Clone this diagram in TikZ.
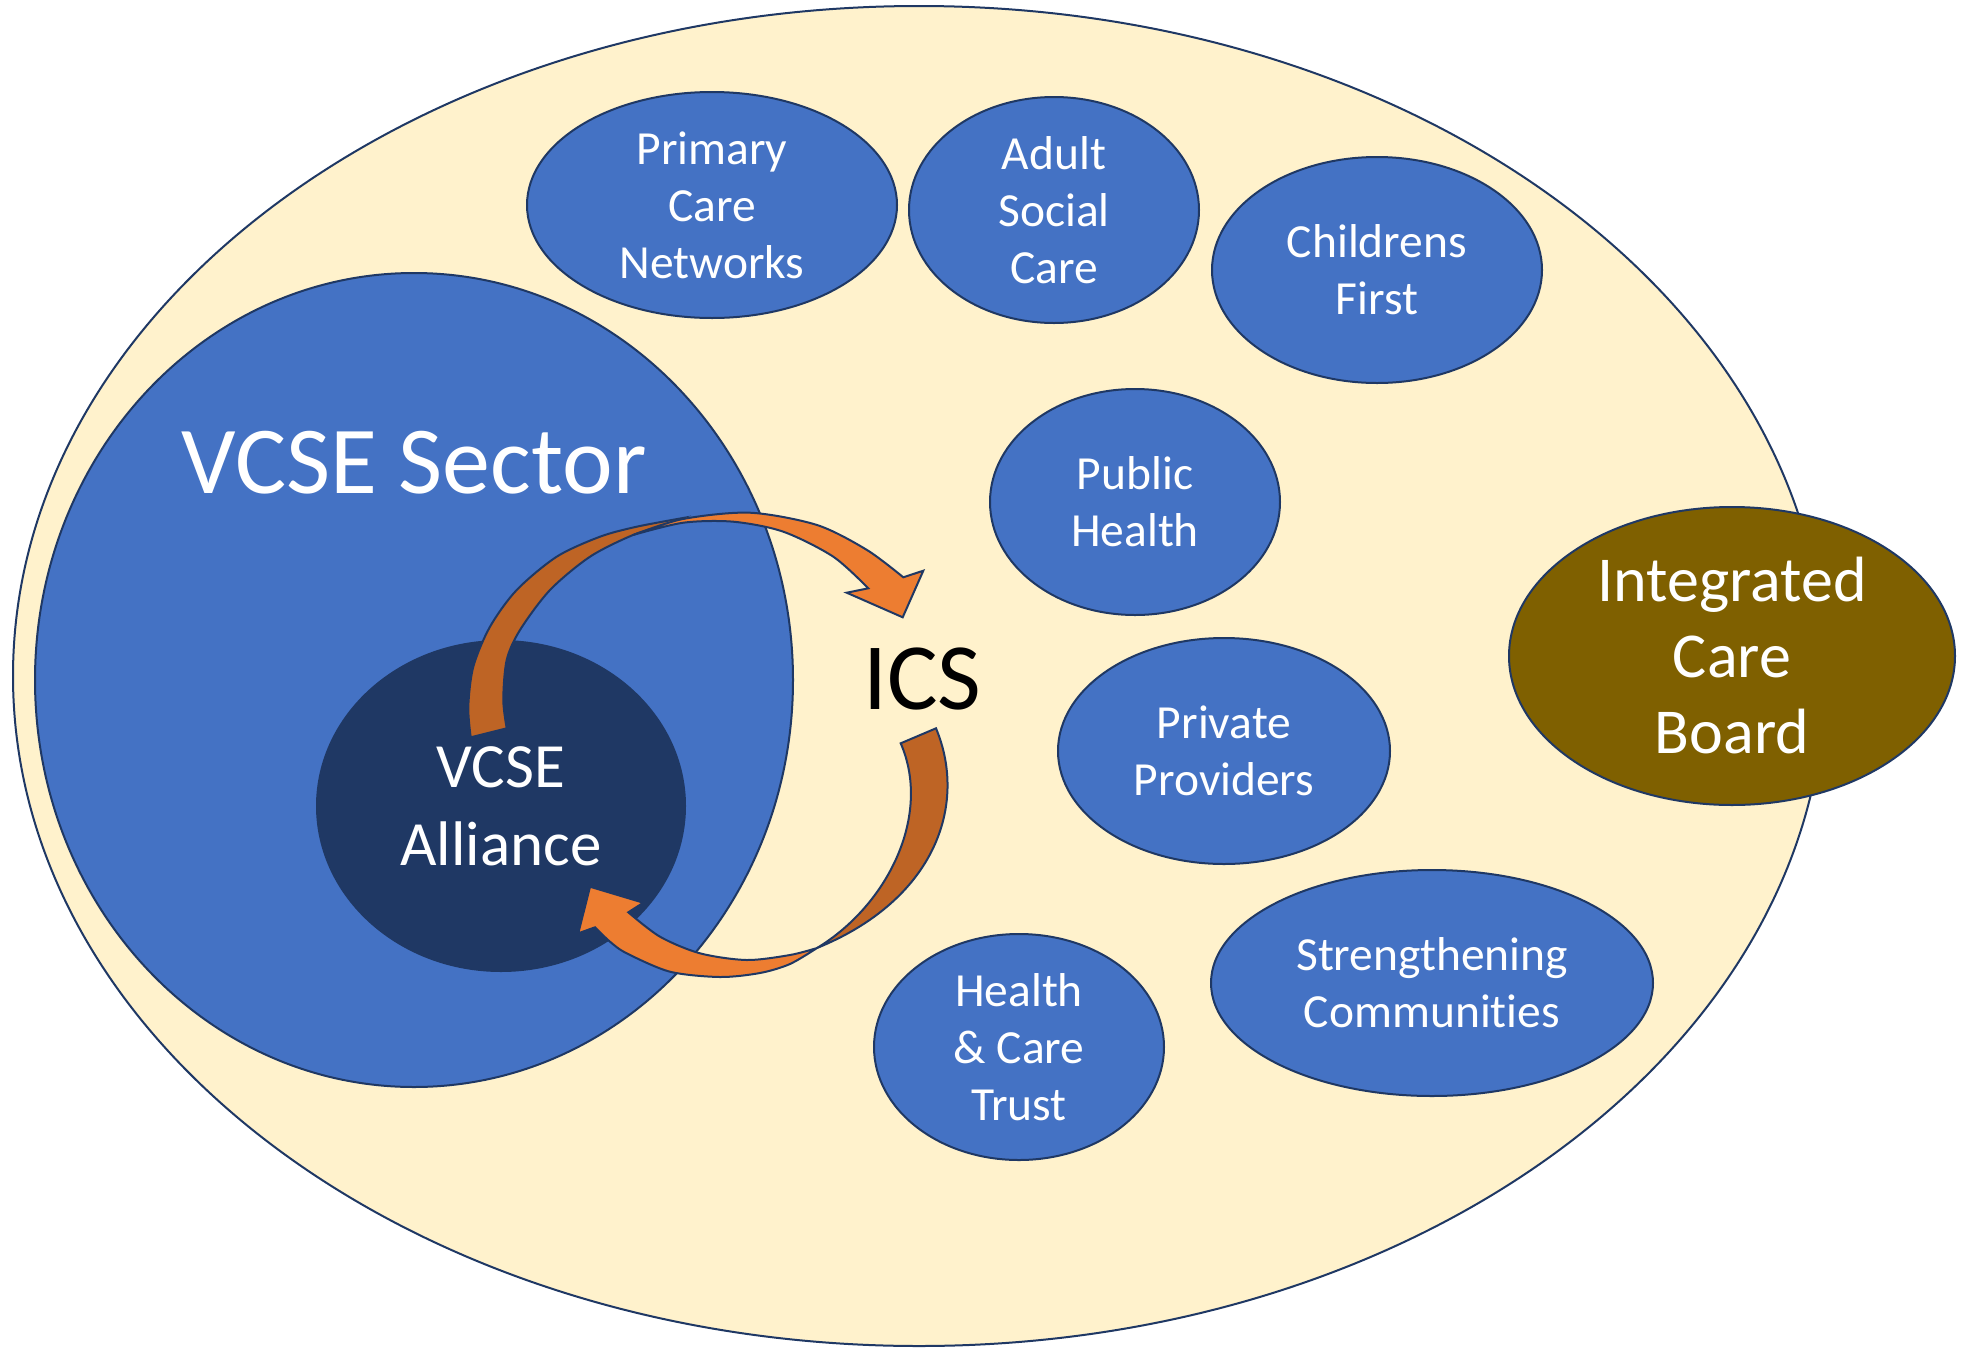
\documentclass[tikz,border=0pt]{standalone}
\usepackage{fontspec}
\setmainfont{Carlito}[Ligatures={NoCommon}]
\usetikzlibrary{shapes.geometric}
\definecolor{cream}{HTML}{FFF2CC}
\definecolor{navy}{HTML}{1F3864}
\definecolor{midblue}{HTML}{4472C4}
\definecolor{olive}{HTML}{7F6000}
\definecolor{orangelt}{HTML}{ED7D31}
\definecolor{orangedk}{HTML}{BE6425}
\begin{document}
\begin{tikzpicture}[x=1pt,y=-1pt,
  edge/.style={draw=navy,line width=2pt},
  oval/.style={ellipse,edge,inner sep=0pt,align=center,text=white},
  blob/.style={oval,fill=midblue,minimum height=226pt,font=\fontsize{47.5}{57}\selectfont},
  arrowpart/.style={draw=navy,line width=2pt,line join=miter}]
\useasboundingbox (0,0) rectangle (1968,1347);

% outer ICS area
\node[ellipse,edge,fill=cream,minimum width=1812pt,minimum height=1340pt,inner sep=0pt] (area) at (919,676) {};

% VCSE sector
\node[ellipse,edge,fill=midblue,minimum width=758pt,minimum height=814pt,inner sep=0pt] (sector) at (414,680) {};
\node[anchor=base,text=white,font=\fontsize{96}{115}\selectfont] (sectorlabel) at (414,493.3) {VCSE Sector};

% partner ovals
\node[blob,minimum width=370pt] (pcn) at (712,205) {Primary\\Care\\Networks};
\node[blob,minimum width=290pt] (asc) at (1054,210) {Adult\\Social\\Care};
\node[blob,minimum width=330pt] (cf) at (1377,270) {Childrens\\First};
\node[blob,minimum width=290pt] (ph) at (1135,502) {Public\\Health};
\node[blob,minimum width=332pt] (pp) at (1224,751) {Private\\Providers};
\node[blob,minimum width=290pt] (hct) at (1019,1047) {Health\\\&~Care\\Trust};
\node[blob,minimum width=442pt] (sc) at (1432,983) {Strengthening\\Communities};

% Integrated Care Board
\node[oval,fill=olive,minimum width=446pt,minimum height=298pt,font=\fontsize{64}{76}\selectfont] (icb) at (1732,656) {Integrated\\Care\\Board};

% VCSE Alliance
\node[oval,fill=navy,minimum width=368pt,minimum height=330pt,font=\fontsize{63}{78}\selectfont] (alliance) at (501,806) {VCSE\\Alliance};

% ICS label
\node[anchor=base,text=black,font=\fontsize{95}{114}\selectfont] (ics) at (922.5,709.3) {ICS};

% upper curved arrow: shaded back part
\draw[arrowpart,fill=orangedk]
  plot[smooth] coordinates {(470.7,737.3) (468.3,706.7) (473.3,666.7) (490,626.7) (516.7,590) (556.7,556.7) (600,536.7) (636.7,526.7) (683,518)}
  -- plot[smooth] coordinates {(666.7,525) (633,535) (590,556.7) (550,590) (520,630) (506.7,660) (503.3,700) (506.7,728.3)}
  -- cycle;
% upper curved arrow: front part with head
\draw[arrowpart,fill=orangelt]
  plot[smooth] coordinates {(633,535) (683,519) (750,512.7) (817,525) (867,550) (903.3,577.3)}
  -- (923.3,570.7) -- (902.7,617.3) -- (846.7,592.7)
  -- plot[smooth] coordinates {(868.3,588.3) (833.3,556.7) (783.3,531.7) (733.3,521.7) (683.3,522.7) (633,535)}
  -- cycle;

% lower curved arrow: shaded back part
\draw[arrowpart,fill=orangedk]
  (936,728.3) .. controls (968,805) and (935,900) .. (817,948)
  .. controls (888,905) and (932,815) .. (900.7,743.3)
  -- cycle;
% lower curved arrow: front part with head
\draw[arrowpart,fill=orangelt]
  (590,886.7) -- (643.3,902.7)
  -- plot[smooth] coordinates {(628.3,912.3) (660,936.7) (700,953.3) (746.7,960) (790,955) (817,948)}
  -- plot[smooth] coordinates {(817,948) (790,964) (760,973) (720,977) (670,971.7) (626.7,953.3) (610,941.7) (595,927.3)}
  -- (578.3,933.3) -- cycle;
\end{tikzpicture}
\end{document}
